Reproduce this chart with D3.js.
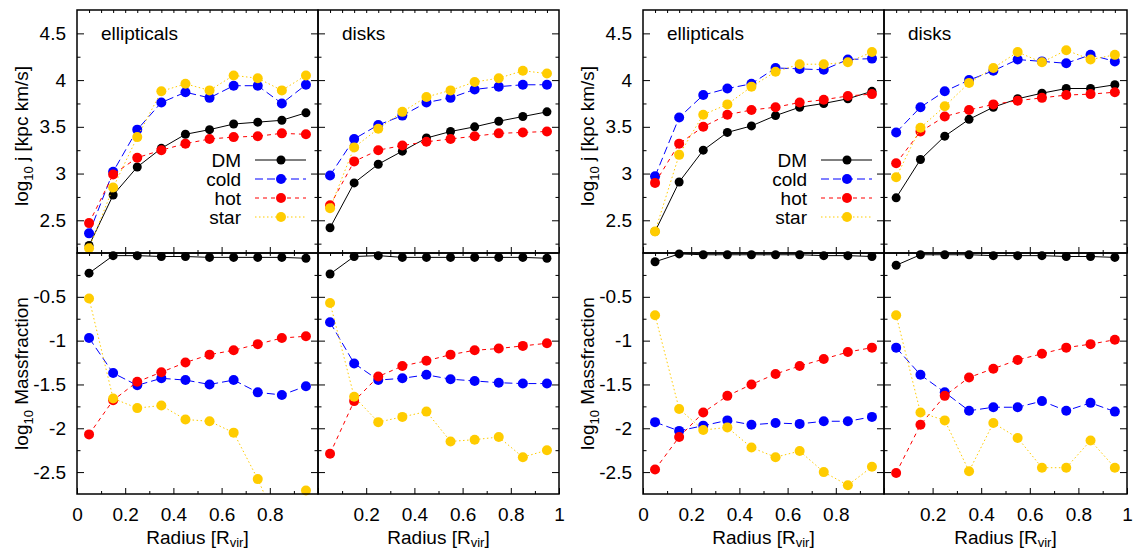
<!DOCTYPE html>
<html>
<head>
<meta charset="utf-8">
<script src="https://cdn.jsdelivr.net/npm/d3@7/dist/d3.min.js"></script>
<style>
  body { margin: 0; background: #fff; }
  text { font-family: "Liberation Sans", Arial, sans-serif; }
</style>
</head>
<body>
<div id="chart"></div>
<script>
const width = 1138
const height = 551

// radial bins
const radius = [0.05, 0.15, 0.25, 0.35, 0.45, 0.55, 0.65, 0.75, 0.85, 0.95]
const seriesNames = ["DM", "cold", "hot", "star"]

// left figure, ellipticals: log10 j
const jEllA_DM   = [2.23, 2.77, 3.07, 3.27, 3.42, 3.47, 3.53, 3.55, 3.57, 3.65]
const jEllA_cold = [2.36, 3.02, 3.47, 3.76, 3.87, 3.81, 3.94, 3.94, 3.75, 3.95]
const jEllA_hot  = [2.47, 2.99, 3.17, 3.25, 3.32, 3.37, 3.39, 3.40, 3.43, 3.42]
const jEllA_star = [2.20, 2.85, 3.39, 3.88, 3.96, 3.89, 4.05, 4.02, 3.89, 4.05]
// left figure, disks: log10 j
const jDskA_DM   = [2.42, 2.90, 3.10, 3.24, 3.38, 3.45, 3.50, 3.56, 3.61, 3.66]
const jDskA_cold = [2.98, 3.37, 3.52, 3.62, 3.76, 3.81, 3.90, 3.93, 3.95, 3.95]
const jDskA_hot  = [2.66, 3.13, 3.25, 3.30, 3.34, 3.37, 3.40, 3.43, 3.44, 3.45]
const jDskA_star = [2.63, 3.28, 3.48, 3.66, 3.82, 3.89, 3.98, 4.02, 4.10, 4.07]
// left figure, ellipticals: log10 mass fraction
const mEllA_DM   = [-0.23, -0.03, -0.03, -0.04, -0.04, -0.05, -0.05, -0.05, -0.05, -0.06]
const mEllA_cold = [-0.97, -1.37, -1.51, -1.43, -1.45, -1.50, -1.45, -1.59, -1.62, -1.52]
const mEllA_hot  = [-2.07, -1.68, -1.47, -1.36, -1.25, -1.16, -1.11, -1.04, -0.97, -0.95]
const mEllA_star = [-0.52, -1.66, -1.77, -1.74, -1.90, -1.92, -2.05, -2.58, -3.20, -2.71]
// left figure, disks: log10 mass fraction
const mDskA_DM   = [-0.24, -0.04, -0.03, -0.05, -0.05, -0.05, -0.05, -0.05, -0.05, -0.06]
const mDskA_cold = [-0.79, -1.26, -1.45, -1.43, -1.39, -1.44, -1.46, -1.48, -1.49, -1.49]
const mDskA_hot  = [-2.29, -1.69, -1.41, -1.29, -1.23, -1.16, -1.11, -1.09, -1.06, -1.03]
const mDskA_star = [-0.57, -1.64, -1.93, -1.87, -1.81, -2.15, -2.13, -2.10, -2.33, -2.25]

// right figure, ellipticals: log10 j
const jEllB_DM   = [2.38, 2.91, 3.25, 3.44, 3.51, 3.62, 3.71, 3.75, 3.80, 3.88]
const jEllB_cold = [2.97, 3.60, 3.84, 3.91, 3.96, 4.13, 4.12, 4.11, 4.22, 4.23]
const jEllB_hot  = [2.90, 3.32, 3.50, 3.63, 3.68, 3.71, 3.76, 3.79, 3.83, 3.85]
const jEllB_star = [2.38, 3.20, 3.63, 3.74, 3.93, 4.09, 4.17, 4.17, 4.19, 4.30]
// right figure, disks: log10 j
const jDskB_DM   = [2.74, 3.15, 3.40, 3.58, 3.71, 3.80, 3.86, 3.91, 3.91, 3.95]
const jDskB_cold = [3.44, 3.71, 3.88, 4.00, 4.10, 4.22, 4.20, 4.18, 4.27, 4.20]
const jDskB_hot  = [3.11, 3.45, 3.61, 3.68, 3.74, 3.78, 3.81, 3.84, 3.85, 3.87]
const jDskB_star = [2.96, 3.49, 3.72, 3.97, 4.13, 4.30, 4.19, 4.32, 4.22, 4.27]
// right figure, ellipticals: log10 mass fraction
const mEllB_DM   = [-0.10, -0.01, -0.02, -0.02, -0.02, -0.02, -0.02, -0.03, -0.03, -0.04]
const mEllB_cold = [-1.93, -2.03, -1.97, -1.91, -1.96, -1.94, -1.95, -1.92, -1.92, -1.87]
const mEllB_hot  = [-2.47, -2.10, -1.82, -1.63, -1.50, -1.38, -1.29, -1.21, -1.13, -1.08]
const mEllB_star = [-0.71, -1.78, -2.02, -1.99, -2.22, -2.33, -2.26, -2.50, -2.65, -2.44]
// right figure, disks: log10 mass fraction
const mDskB_DM   = [-0.14, -0.02, -0.02, -0.02, -0.03, -0.03, -0.03, -0.04, -0.04, -0.05]
const mDskB_cold = [-1.08, -1.39, -1.59, -1.80, -1.76, -1.76, -1.69, -1.80, -1.71, -1.81]
const mDskB_hot  = [-2.51, -1.96, -1.63, -1.42, -1.32, -1.22, -1.15, -1.08, -1.04, -0.99]
const mDskB_star = [-0.71, -1.82, -1.91, -2.49, -1.94, -2.11, -2.45, -2.45, -2.14, -2.45]

// tick values
const jTicks = [2.5, 3, 3.5, 4, 4.5]
const jMinor = [2.25, 2.75, 3.25, 3.75, 4.25]
const mTicks = [-2.5, -2, -1.5, -1, -0.5]
const mMinor = [-2.25, -1.75, -1.25, -0.75, -0.25]
const xTicks = [0, 0.2, 0.4, 0.6, 0.8, 1]
const xMinor = [0.1, 0.3, 0.5, 0.7, 0.9]
const xTopTicks = d3.range(0.05, 1, 0.05)

// styles
const colors = ["#000000", "#0000ff", "#ff0000", "#ffcc00"]
const dashes = [null, "8,4", "4,4", "1.5,2.5"]
const font = 19
const subFont = 13

const svg = d3.select("#chart")
  .append("svg")
    .attr("width", width)
    .attr("height", height)

const yTop = d3.scaleLinear().domain([2.15, 4.75]).range([253, 10])
const yBot = d3.scaleLinear().domain([-2.75, 0]).range([494, 253])

const panels = [
  {x0: 77,  x1: 318,  label: "ellipticals", first: true,  legend: true,
   j: [jEllA_DM, jEllA_cold, jEllA_hot, jEllA_star], m: [mEllA_DM, mEllA_cold, mEllA_hot, mEllA_star]},
  {x0: 318, x1: 559,  label: "disks", first: false, legend: false,
   j: [jDskA_DM, jDskA_cold, jDskA_hot, jDskA_star], m: [mDskA_DM, mDskA_cold, mDskA_hot, mDskA_star]},
  {x0: 643, x1: 884,  label: "ellipticals", first: true,  legend: true,
   j: [jEllB_DM, jEllB_cold, jEllB_hot, jEllB_star], m: [mEllB_DM, mEllB_cold, mEllB_hot, mEllB_star]},
  {x0: 884, x1: 1127, label: "disks", first: false, legend: false,
   j: [jDskB_DM, jDskB_cold, jDskB_hot, jDskB_star], m: [mDskB_DM, mDskB_cold, mDskB_hot, mDskB_star]}
]

const fmtX = d => (d === 0 || d === 1) ? String(d) : d.toFixed(1)

function styleAxis(g) {
  g.select(".domain").remove()
  g.selectAll("line").attr("stroke", "#000").attr("stroke-width", 1)
  g.selectAll("text").attr("font-size", font).attr("font-family", "Liberation Sans, Arial, sans-serif").attr("fill", "#000")
}

function drawAxes(p, x, y, major, minor, isBottom) {
  const g = svg.append("g")
  // left / right
  g.append("g").attr("transform", `translate(${p.x0},0)`)
    .call(d3.axisLeft(y).tickValues(major).tickSize(-7).tickPadding(11)
      .tickFormat(p.first ? d => String(d) : () => ""))
    .call(styleAxis)
  g.append("g").attr("transform", `translate(${p.x0},0)`)
    .call(d3.axisLeft(y).tickValues(minor).tickSize(-3.5).tickFormat(""))
    .call(styleAxis)
  g.append("g").attr("transform", `translate(${p.x1},0)`)
    .call(d3.axisRight(y).tickValues(major).tickSize(-7).tickFormat(""))
    .call(styleAxis)
  g.append("g").attr("transform", `translate(${p.x1},0)`)
    .call(d3.axisRight(y).tickValues(minor).tickSize(-3.5).tickFormat(""))
    .call(styleAxis)
  // bottom
  const yb = y.range()[0], yt = y.range()[1]
  const shown = xTicks.filter(v => p.first ? v < 1 : v > 0)
  g.append("g").attr("transform", `translate(0,${yb})`)
    .call(d3.axisBottom(x).tickValues(xTicks).tickSize(-6).tickPadding(14)
      .tickFormat(d => (isBottom && shown.includes(d)) ? fmtX(d) : ""))
    .call(styleAxis)
  g.append("g").attr("transform", `translate(0,${yb})`)
    .call(d3.axisBottom(x).tickValues(xMinor).tickSize(-3).tickFormat(""))
    .call(styleAxis)
  // top
  g.append("g").attr("transform", `translate(0,${yt})`)
    .call(d3.axisTop(x).tickValues(xTopTicks).tickSize(-3).tickFormat(""))
    .call(styleAxis)
}

panels.forEach((p, pi) => {
  const x = d3.scaleLinear().domain([0, 1]).range([p.x0, p.x1])

  ;[[yTop, p.j, jTicks, jMinor, false], [yBot, p.m, mTicks, mMinor, true]].forEach(([y, sets, major, minor, isBottom], ri) => {
    const clipId = `clip-${pi}-${ri}`
    svg.append("clipPath").attr("id", clipId)
      .append("rect")
        .attr("x", p.x0).attr("y", y.range()[1])
        .attr("width", p.x1 - p.x0).attr("height", y.range()[0] - y.range()[1])

    drawAxes(p, x, y, major, minor, isBottom)

    const line = d3.line().x((d, i) => x(radius[i])).y(d => y(d))
    const [lo, hi] = y.domain()

    sets.forEach((vals, si) => {
      const g = svg.append("g")
      g.append("path")
        .attr("clip-path", `url(#${clipId})`)
        .attr("d", line(vals))
        .attr("fill", "none")
        .attr("stroke", colors[si])
        .attr("stroke-width", 1)
        .attr("stroke-dasharray", dashes[si])
      g.selectAll("circle")
        .data(vals.map((v, i) => ({v, r: radius[i]})).filter(d => d.v >= lo - 0.05 && d.v <= hi + 0.05))
        .join("circle")
          .attr("cx", d => x(d.r))
          .attr("cy", d => y(d.v))
          .attr("r", si === 0 ? 4.5 : 5)
          .attr("fill", colors[si])
    })

    // border
    svg.append("rect")
      .attr("x", p.x0).attr("y", y.range()[1])
      .attr("width", p.x1 - p.x0).attr("height", y.range()[0] - y.range()[1])
      .attr("fill", "none").attr("stroke", "#000").attr("stroke-width", 1.5)
  })

  // panel label
  svg.append("text")
    .attr("x", p.x0 + 24)
    .attr("y", 40)
    .attr("font-size", font)
    .text(p.label)

  // x axis title
  const xt = svg.append("text")
    .attr("x", (p.x0 + p.x1) / 2)
    .attr("y", 544)
    .attr("text-anchor", "middle")
    .attr("font-size", font)
  xt.append("tspan").text("Radius [R")
  xt.append("tspan").attr("font-size", subFont).attr("dy", 3).text("vir")
  xt.append("tspan").attr("dy", -3).text("]")

  // y axis titles
  if (p.first) {
    const cx = p.x0 - 49
    const t1 = svg.append("text")
      .attr("transform", `translate(${cx},136) rotate(-90)`)
      .attr("text-anchor", "middle")
      .attr("font-size", font)
    t1.append("tspan").text("log")
    t1.append("tspan").attr("font-size", subFont).attr("dy", 5).text("10")
    t1.append("tspan").attr("dy", -5).text(" j [kpc km/s]")

    const t2 = svg.append("text")
      .attr("transform", `translate(${cx},${(yBot.range()[0] + yBot.range()[1]) / 2}) rotate(-90)`)
      .attr("text-anchor", "middle")
      .attr("font-size", font)
    t2.append("tspan").text("log")
    t2.append("tspan").attr("font-size", subFont).attr("dy", 5).text("10")
    t2.append("tspan").attr("dy", -5).text(" Massfraction")
  }

  // legend
  if (p.legend) {
    seriesNames.forEach((name, si) => {
      const ly = 160 + si * 19
      svg.append("text")
        .attr("x", p.x0 + 164).attr("y", ly + 7)
        .attr("text-anchor", "end")
        .attr("font-size", font)
        .text(name)
      svg.append("line")
        .attr("x1", p.x0 + 178).attr("x2", p.x0 + 229)
        .attr("y1", ly).attr("y2", ly)
        .attr("stroke", colors[si]).attr("stroke-width", 1)
        .attr("stroke-dasharray", dashes[si])
      svg.append("circle")
        .attr("cx", p.x0 + 204).attr("cy", ly)
        .attr("r", si === 0 ? 4.5 : 5)
        .attr("fill", colors[si])
    })
  }
})
</script>
</body>
</html>
